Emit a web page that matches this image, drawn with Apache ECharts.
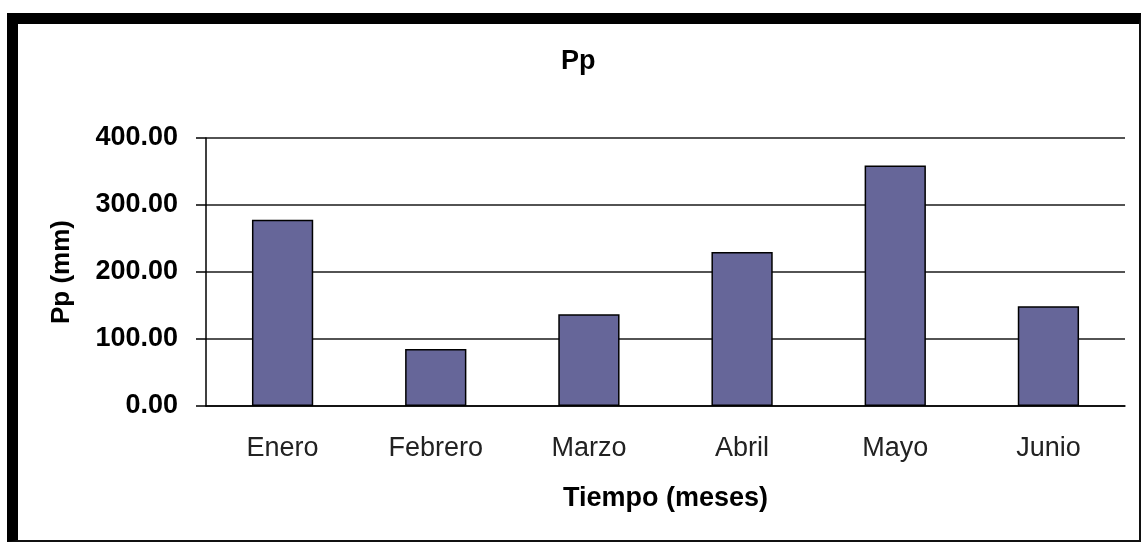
<!DOCTYPE html>
<html>
<head>
<meta charset="utf-8">
<title>Pp</title>
<script src="https://cdn.jsdelivr.net/npm/echarts@6/dist/echarts.min.js"></script>
<style>
  html, body { margin: 0; padding: 0; background: #fff; }
  #chartContainer { position: absolute; left: 0; top: 0; width: 1144px; height: 543px; }
  #frame {
    position: absolute; left: 7px; top: 13px; width: 1134px; height: 529px;
    box-sizing: border-box; pointer-events: none;
    border-left: 11px solid #000; border-top: 11px solid #000;
    border-right: 2px solid #111; border-bottom: 2px solid #111;
  }
</style>
</head>
<body>
<div id="chartContainer"></div>
<div id="frame"></div>
<script>
var meses = ['Enero', 'Febrero', 'Marzo', 'Abril', 'Mayo', 'Junio'];
var pp = [278, 85, 137, 230, 359, 149];
var yTicks = [0, 100, 200, 300, 400];

function barChart(){
  var dom = document.getElementById("chartContainer");
  var myChart = echarts.init(dom);
  var fuente = "'Liberation Sans', Arial, sans-serif";
  var option;
  option = {
    animation: false,
    textStyle: { fontFamily: fuente },
    title: {
      text: 'Pp',
      left: 556,
      top: 43,
      textStyle: { fontSize: 27, fontWeight: 'bold', color: '#000', fontFamily: fuente }
    },
    grid: { left: 206, right: 19, top: 138, bottom: 137 },
    xAxis: {
      type: 'category',
      data: meses,
      name: 'Tiempo (meses)',
      nameLocation: 'middle',
      nameGap: 79,
      nameTextStyle: { fontSize: 27, fontWeight: 'bold', color: '#000', fontFamily: fuente },
      axisLine: { lineStyle: { color: '#000', width: 1.5 } },
      axisTick: { length: 9, lineStyle: { color: '#000', width: 1.5 } },
      axisLabel: { fontSize: 27, color: '#222', margin: 29, fontFamily: fuente }
    },
    yAxis: {
      type: 'value',
      min: yTicks[0],
      max: yTicks[yTicks.length - 1],
      interval: 100,
      name: 'Pp (mm)',
      nameLocation: 'middle',
      nameGap: 131,
      nameTextStyle: { fontSize: 26, fontWeight: 'bold', color: '#000', fontFamily: fuente },
      axisLine: { show: true, lineStyle: { color: '#000', width: 1.5 } },
      axisTick: { show: true, length: 10, lineStyle: { color: '#000', width: 1.5 } },
      axisLabel: {
        fontSize: 27, fontWeight: 'bold', color: '#000', margin: 28, fontFamily: fuente,
        formatter: function (v) { return v.toFixed(2); }
      },
      splitLine: { lineStyle: { color: '#1a1a1a', width: 1.5 } }
    },
    series: [{
      type: 'bar',
      data: pp,
      barWidth: '40%',
      itemStyle: { color: '#666699', borderColor: '#000', borderWidth: 1.5 }
    }]
  };

  if(option && typeof option === 'object'){
    myChart.setOption(option);
  }
}
barChart();
</script>
</body>
</html>
